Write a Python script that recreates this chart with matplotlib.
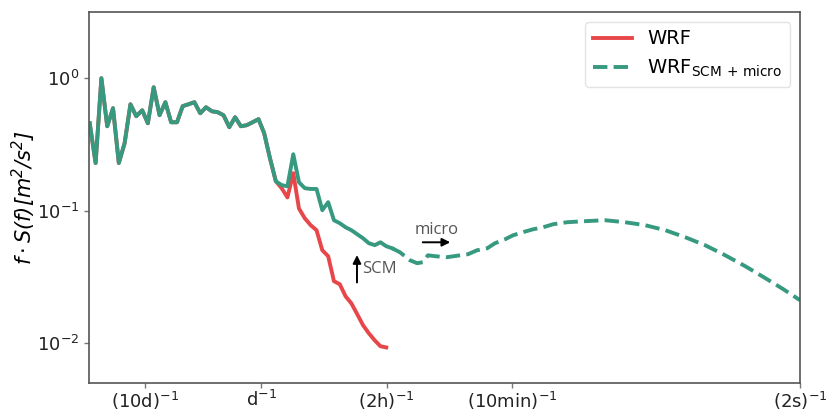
import numpy as np
import matplotlib
matplotlib.use("Agg")
import matplotlib.pyplot as plt
from matplotlib.ticker import NullLocator, FixedLocator

plt.rcParams['mathtext.default'] = 'regular'

# frequency bins (Hz) of the mesoscale spectra
freq_meso = [3.89e-7, 4.37e-7, 4.90e-7, 5.50e-7, 6.17e-7, 6.92e-7, 7.76e-7, 8.71e-7,
             9.77e-7, 1.10e-6, 1.23e-6, 1.38e-6, 1.55e-6, 1.74e-6, 1.95e-6, 2.19e-6,
             2.45e-6, 2.75e-6, 3.09e-6, 3.47e-6, 3.89e-6, 4.37e-6, 4.90e-6, 5.50e-6,
             6.17e-6, 6.92e-6, 7.76e-6, 8.71e-6, 9.77e-6, 1.10e-5, 1.23e-5, 1.38e-5,
             1.55e-5, 1.74e-5, 1.95e-5, 2.19e-5, 2.45e-5, 2.75e-5, 3.09e-5, 3.47e-5,
             3.89e-5, 4.37e-5, 4.90e-5, 5.50e-5, 6.17e-5, 6.92e-5, 7.76e-5, 8.71e-5,
             9.77e-5, 1.10e-4, 1.23e-4, 1.38e-4, 1.55e-4]

# WRF + SCM (solid green part)
spec_scm = [0.457, 0.229, 1.0, 0.434, 0.594, 0.229, 0.323, 0.636,
            0.517, 0.573, 0.457, 0.855, 0.526, 0.659, 0.465, 0.465,
            0.615, 0.636, 0.659, 0.544, 0.604, 0.563, 0.554, 0.526,
            0.427, 0.508, 0.434, 0.442, 0.465, 0.491, 0.385, 0.249,
            0.167, 0.156, 0.153, 0.267, 0.164, 0.148, 0.146, 0.146,
            0.101, 0.116, 0.0848, 0.0805, 0.075, 0.0713, 0.0665, 0.062,
            0.0569, 0.055, 0.0578, 0.054, 0.0521]

# plain WRF
spec_wrf = [0.457, 0.229, 1.0, 0.434, 0.594, 0.229, 0.323, 0.636,
            0.517, 0.573, 0.457, 0.855, 0.526, 0.659, 0.465, 0.465,
            0.615, 0.636, 0.659, 0.544, 0.604, 0.563, 0.554, 0.526,
            0.427, 0.508, 0.434, 0.442, 0.465, 0.491, 0.385, 0.249,
            0.167, 0.148, 0.126, 0.192, 0.104, 0.0877, 0.0778, 0.0713,
            0.0503, 0.0454, 0.0294, 0.0279, 0.0226, 0.0200, 0.0166, 0.0137,
            0.0119, 0.0105, 0.0095, 0.0093]

# micro-scale extension (dashed green part)
freq_micro = [1.55e-4, 1.81e-4, 2.21e-4, 2.54e-4, 2.86e-4, 3.15e-4, 3.62e-4, 4.59e-4,
              5.95e-4, 6.97e-4, 8.33e-4, 1.02e-3, 1.19e-3, 1.45e-3, 1.70e-3, 2.07e-3,
              2.53e-3, 3.08e-3, 3.76e-3, 4.96e-3, 6.81e-3, 1.05e-2, 1.56e-2, 2.32e-2,
              3.46e-2, 5.14e-2, 7.63e-2, 0.1135, 0.169, 0.251, 0.358, 0.5]
spec_micro = [0.0521, 0.0486, 0.0423, 0.0402, 0.0409, 0.0461, 0.0454, 0.0446,
              0.0461, 0.0470, 0.0503, 0.0521, 0.0569, 0.0609, 0.0653, 0.0689,
              0.0725, 0.0750, 0.0791, 0.0819, 0.0833, 0.0848, 0.0819, 0.0778,
              0.0713, 0.0631, 0.0549, 0.0461, 0.0381, 0.0310, 0.0256, 0.0211]

tick_freqs = [1 / 864000, 1 / 86400, 1 / 7200, 1 / 600, 1 / 2]
tick_labels = [r'$(10d)^{-1}$', r'$d^{-1}$', r'$(2h)^{-1}$', r'$(10min)^{-1}$', r'$(2s)^{-1}$']

red = '#e8474a'
green = '#379a80'

fig = plt.figure(figsize=(8.3, 4.12), dpi=100)
ax = fig.add_axes([0.107, 0.070, 0.857, 0.901])

ax.plot(freq_meso[:len(spec_wrf)], spec_wrf, color=red, lw=2.8, label='WRF')
ax.plot(freq_meso, spec_scm, color=green, lw=2.8)
ax.plot(freq_micro, spec_micro, color=green, lw=2.8, ls='--', label=r'WRF$_{SCM\,+\,micro}$')

ax.set_xscale('log')
ax.set_yscale('log')
ax.set_xlim(3.82e-7, 0.5)
ax.set_ylim(5e-3, 10 ** 0.5)

ax.xaxis.set_major_locator(FixedLocator(tick_freqs))
ax.set_xticklabels(tick_labels)
ax.xaxis.set_minor_locator(NullLocator())
ax.yaxis.set_minor_locator(NullLocator())
ax.tick_params(labelsize=13, colors='#222222', length=3.5, width=1)
ax.tick_params(axis='both', color='#777777')
ax.tick_params(axis='x', pad=1.5)
for s in ax.spines.values():
    s.set_color('#555555')
    s.set_linewidth(1.2)

ax.set_ylabel(r'$f \cdot S(f) [m^2/s^2]$', fontsize=15)
ax.yaxis.set_label_coords(-0.072, 0.5)
ax.get_yaxis().get_label().set_fontstyle('italic')

# annotations
ax.annotate('', xy=(5.18e-4, 0.0578), xytext=(2.69e-4, 0.0578),
            arrowprops=dict(arrowstyle='-|>', color='black', lw=1.4, mutation_scale=12))
ax.text(3.75e-4, 0.0713, 'micro', color='#555555', fontsize=12, family='Open Sans',
        ha='center', va='center')
ax.annotate('', xy=(7.73e-5, 0.0486), xytext=(7.73e-5, 0.0274),
            arrowprops=dict(arrowstyle='-|>', color='black', lw=1.4, mutation_scale=12))
ax.text(8.6e-5, 0.0362, 'SCM', color='#555555', fontsize=12, family='Open Sans',
        ha='left', va='center')

leg = ax.legend(loc='upper right', fontsize=14, frameon=True, fancybox=True,
                borderaxespad=0.5)
leg.get_frame().set_edgecolor('#dddddd')

fig.savefig('out.png', dpi=100)
